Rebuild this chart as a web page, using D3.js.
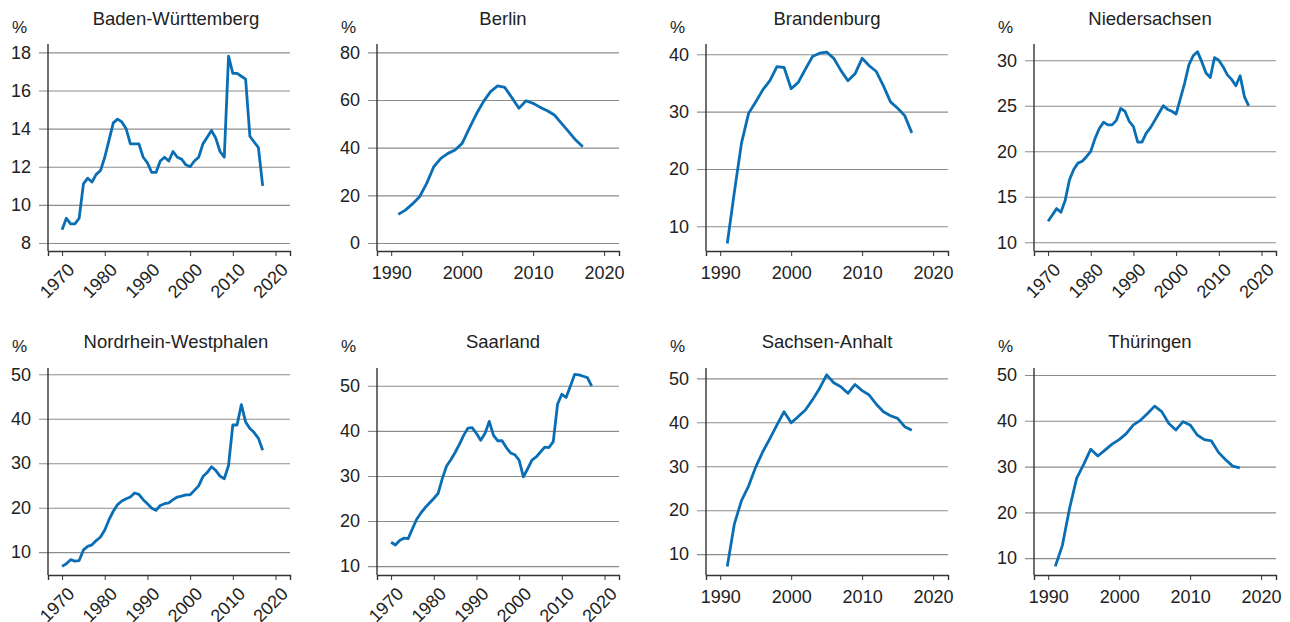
<!DOCTYPE html>
<html>
<head>
<meta charset="utf-8">
<script src="https://cdn.jsdelivr.net/npm/d3@7/dist/d3.min.js"></script>
<style>
body { margin: 0; background: #fff; }
svg { display: block; font-family: 'Liberation Sans', Arial, sans-serif; }
</style>
</head>
<body>
<div id="chart"><svg width="1290" height="622"></svg></div>
<script>
const lineColor = '#0a6eb4';
const gridColor = '#8c8c8c';
const textColor = '#222';

// Jahre
const yearsLong = d3.range(1970, 2018);
const yearsShort = d3.range(1991, 2018);

// Werte in %
const badenWuerttemberg = [8.7, 9.3, 9.0, 9.0, 9.3, 11.1, 11.4, 11.2, 11.6, 11.8,
    12.5, 13.4, 14.3, 14.5, 14.35, 14.0, 13.2, 13.2, 13.2, 12.5,
    12.2, 11.7, 11.7, 12.3, 12.5, 12.3, 12.8, 12.5, 12.4, 12.1,
    12.0, 12.3, 12.5, 13.2, 13.55, 13.9, 13.5, 12.8, 12.5, 17.8,
    16.9, 16.9, 16.75, 16.6, 13.6, 13.3, 13.0, 11.0];
const berlin = [12.0, 13.8, 16.4, 19.4, 25.0, 32.0, 35.5, 37.6, 39.0,
    41.8, 48.1, 54.1, 59.3, 63.5, 65.9, 65.3, 61.0, 56.5, 59.7,
    58.6, 56.9, 55.5, 53.7, 50.2, 46.7, 43.2, 40.4];
const brandenburg = [7.0, 16.0, 24.5, 29.7, 31.7, 33.8, 35.4, 37.85, 37.7,
    34.0, 35.1, 37.4, 39.6, 40.2, 40.4, 39.3, 37.2, 35.4, 36.6,
    39.3, 38.0, 37.0, 34.5, 31.7, 30.6, 29.3, 26.3];
const niedersachsen = [12.3, 13.0, 13.7, 13.3, 14.6, 16.85, 18.0, 18.7, 18.9, 19.4,
    20.0, 21.4, 22.5, 23.2, 22.9, 22.9, 23.4, 24.7, 24.4, 23.3,
    22.7, 21.0, 21.0, 22.0, 22.6, 23.4, 24.2, 25.0, 24.6, 24.4,
    24.1, 25.8, 27.5, 29.5, 30.5, 30.95, 29.85, 28.6, 28.1, 30.3,
    30.0, 29.3, 28.4, 27.9, 27.2, 28.3, 26.0, 25.0];
const nordrheinWestphalen = [6.8, 7.4, 8.3, 8.0, 8.1, 10.5, 11.3, 11.65, 12.6, 13.4,
    15.0, 17.3, 19.2, 20.7, 21.5, 22.0, 22.4, 23.3, 23.0, 21.8,
    20.9, 19.9, 19.4, 20.5, 20.9, 21.1, 21.8, 22.4, 22.6, 22.9,
    22.9, 23.9, 24.9, 27.0, 27.9, 29.2, 28.4, 27.1, 26.5, 29.5,
    38.6, 38.6, 43.2, 39.3, 37.8, 36.9, 35.6, 32.9];
const saarland = [15.3, 14.7, 15.7, 16.2, 16.1, 18.3, 20.4, 21.8, 23.0, 24.0,
    25.0, 26.1, 29.4, 32.2, 33.6, 35.2, 37.0, 39.0, 40.6, 40.7,
    39.4, 37.9, 39.4, 42.1, 39.0, 37.8, 37.8, 36.3, 35.1, 34.7,
    33.5, 29.8, 31.6, 33.5, 34.2, 35.3, 36.4, 36.3, 37.6, 45.9,
    48.1, 47.4, 49.9, 52.5, 52.4, 52.1, 51.8, 49.9];
const sachsenAnhalt = [7.2, 16.9, 22.2, 25.5, 29.8, 33.3, 36.3, 39.4, 42.4,
    39.9, 41.3, 42.8, 45.1, 47.7, 50.8, 49.0, 48.1, 46.6, 48.6,
    47.2, 46.2, 44.1, 42.4, 41.5, 40.9, 39.0, 38.2];
const thueringen = [8.2, 12.8, 20.8, 27.4, 30.5, 33.8, 32.3, 33.6, 34.9,
    35.9, 37.2, 39.1, 40.1, 41.6, 43.2, 42.0, 39.4, 38.0, 39.8,
    39.1, 36.9, 35.9, 35.6, 33.1, 31.5, 30.1, 29.7];

// Achsenbeschriftungen
const xTicksLong = [1970, 1980, 1990, 2000, 2010, 2020];
const xTicksShort = [1990, 2000, 2010, 2020];
const yTicksBW = [8, 10, 12, 14, 16, 18];
const yTicksBerlin = [0, 20, 40, 60, 80];
const yTicksBrandenburg = [10, 20, 30, 40];
const yTicksNiedersachsen = [10, 15, 20, 25, 30];
const yTicks10to50 = [10, 20, 30, 40, 50];

const panels = [
    { title: 'Baden-Württemberg', years: yearsLong, values: badenWuerttemberg, yTicks: yTicksBW, yDomain: [7.58, 18.44] },
    { title: 'Berlin', years: yearsShort, values: berlin, yTicks: yTicksBerlin, yDomain: [-3.36, 83.5] },
    { title: 'Brandenburg', years: yearsShort, values: brandenburg, yTicks: yTicksBrandenburg, yDomain: [5.69, 41.8] },
    { title: 'Niedersachsen', years: yearsLong, values: niedersachsen, yTicks: yTicksNiedersachsen, yDomain: [9.04, 31.79] },
    { title: 'Nordrhein-Westphalen', years: yearsLong, values: nordrheinWestphalen, yTicks: yTicks10to50, yDomain: [4.86, 51.42] },
    { title: 'Saarland', years: yearsLong, values: saarland, yTicks: yTicks10to50, yDomain: [8.04, 53.93] },
    { title: 'Sachsen-Anhalt', years: yearsShort, values: sachsenAnhalt, yTicks: yTicks10to50, yDomain: [5.26, 52.35] },
    { title: 'Thüringen', years: yearsShort, values: thueringen, yTicks: yTicks10to50, yDomain: [6.32, 51.53] }
];

const colLeft = [48, 377, 706, 1034];
const titleX = [176, 503, 827, 1150];
const rowTop = [44, 368];
const plotW = 242;
const plotH = 207;

const svg = d3.select('#chart svg');

panels.forEach((p, i) => {
    const col = i % 4, row = Math.floor(i / 4);
    const isLong = p.years[0] < 1990;
    const g = svg.append('g')
        .attr('transform', `translate(${colLeft[col]},${rowTop[row]})`);

    const x = d3.scaleLinear()
        .domain(isLong ? [1966.7, 2023.4] : [1988, 2022.1])
        .range([0, plotW]);
    const y = d3.scaleLinear().domain(p.yDomain).range([plotH, 0]);

    // Gitterlinien + y-Ticks
    const yAxis = g.append('g')
        .call(d3.axisLeft(y).tickValues(p.yTicks).tickSize(-(plotW + 9)).tickPadding(8));
    yAxis.select('.domain').remove();
    yAxis.selectAll('.tick line')
        .attr('x1', -9).attr('x2', plotW)
        .attr('stroke', gridColor).attr('stroke-width', 1.1);
    yAxis.selectAll('.tick text')
        .attr('x', -17)
        .attr('fill', textColor)
        .style('font-size', '18px');

    // x-Achse
    const xAxis = g.append('g')
        .attr('transform', `translate(0,${plotH})`)
        .call(d3.axisBottom(x).tickValues(isLong ? xTicksLong : xTicksShort)
            .tickSize(5).tickFormat(d3.format('d')));
    xAxis.select('.domain').attr('stroke', '#333').attr('stroke-width', 1.4);
    xAxis.selectAll('.tick line').attr('stroke', '#333');
    const xt = xAxis.selectAll('.tick text')
        .attr('fill', textColor)
        .style('font-size', '18px');
    if (isLong) {
        xt.attr('text-anchor', 'end')
            .attr('y', 0).attr('dy', 0)
            .attr('transform', 'translate(13,20) rotate(-45)');
    } else {
        xt.attr('y', 28).attr('dy', 0);
    }

    // y-Achsenlinie
    g.append('line')
        .attr('x1', 0).attr('x2', 0)
        .attr('y1', 0).attr('y2', plotH)
        .attr('stroke', '#333').attr('stroke-width', 1.4);

    // Linie
    const line = d3.line()
        .x((d, k) => x(p.years[k]))
        .y(d => y(d));
    g.append('path')
        .datum(p.values)
        .attr('fill', 'none')
        .attr('stroke', lineColor)
        .attr('stroke-width', 2.8)
        .attr('stroke-linejoin', 'round')
        .attr('d', line);

    // Titel und Einheit
    svg.append('text')
        .attr('x', titleX[col])
        .attr('y', row === 0 ? 25 : 348)
        .attr('text-anchor', 'middle')
        .attr('fill', textColor)
        .style('font-size', '18.5px')
        .text(p.title);
    svg.append('text')
        .attr('x', colLeft[col] - 36)
        .attr('y', row === 0 ? 33 : 352)
        .attr('fill', textColor)
        .style('font-size', '17px')
        .text('%');
});
</script>
</body>
</html>
